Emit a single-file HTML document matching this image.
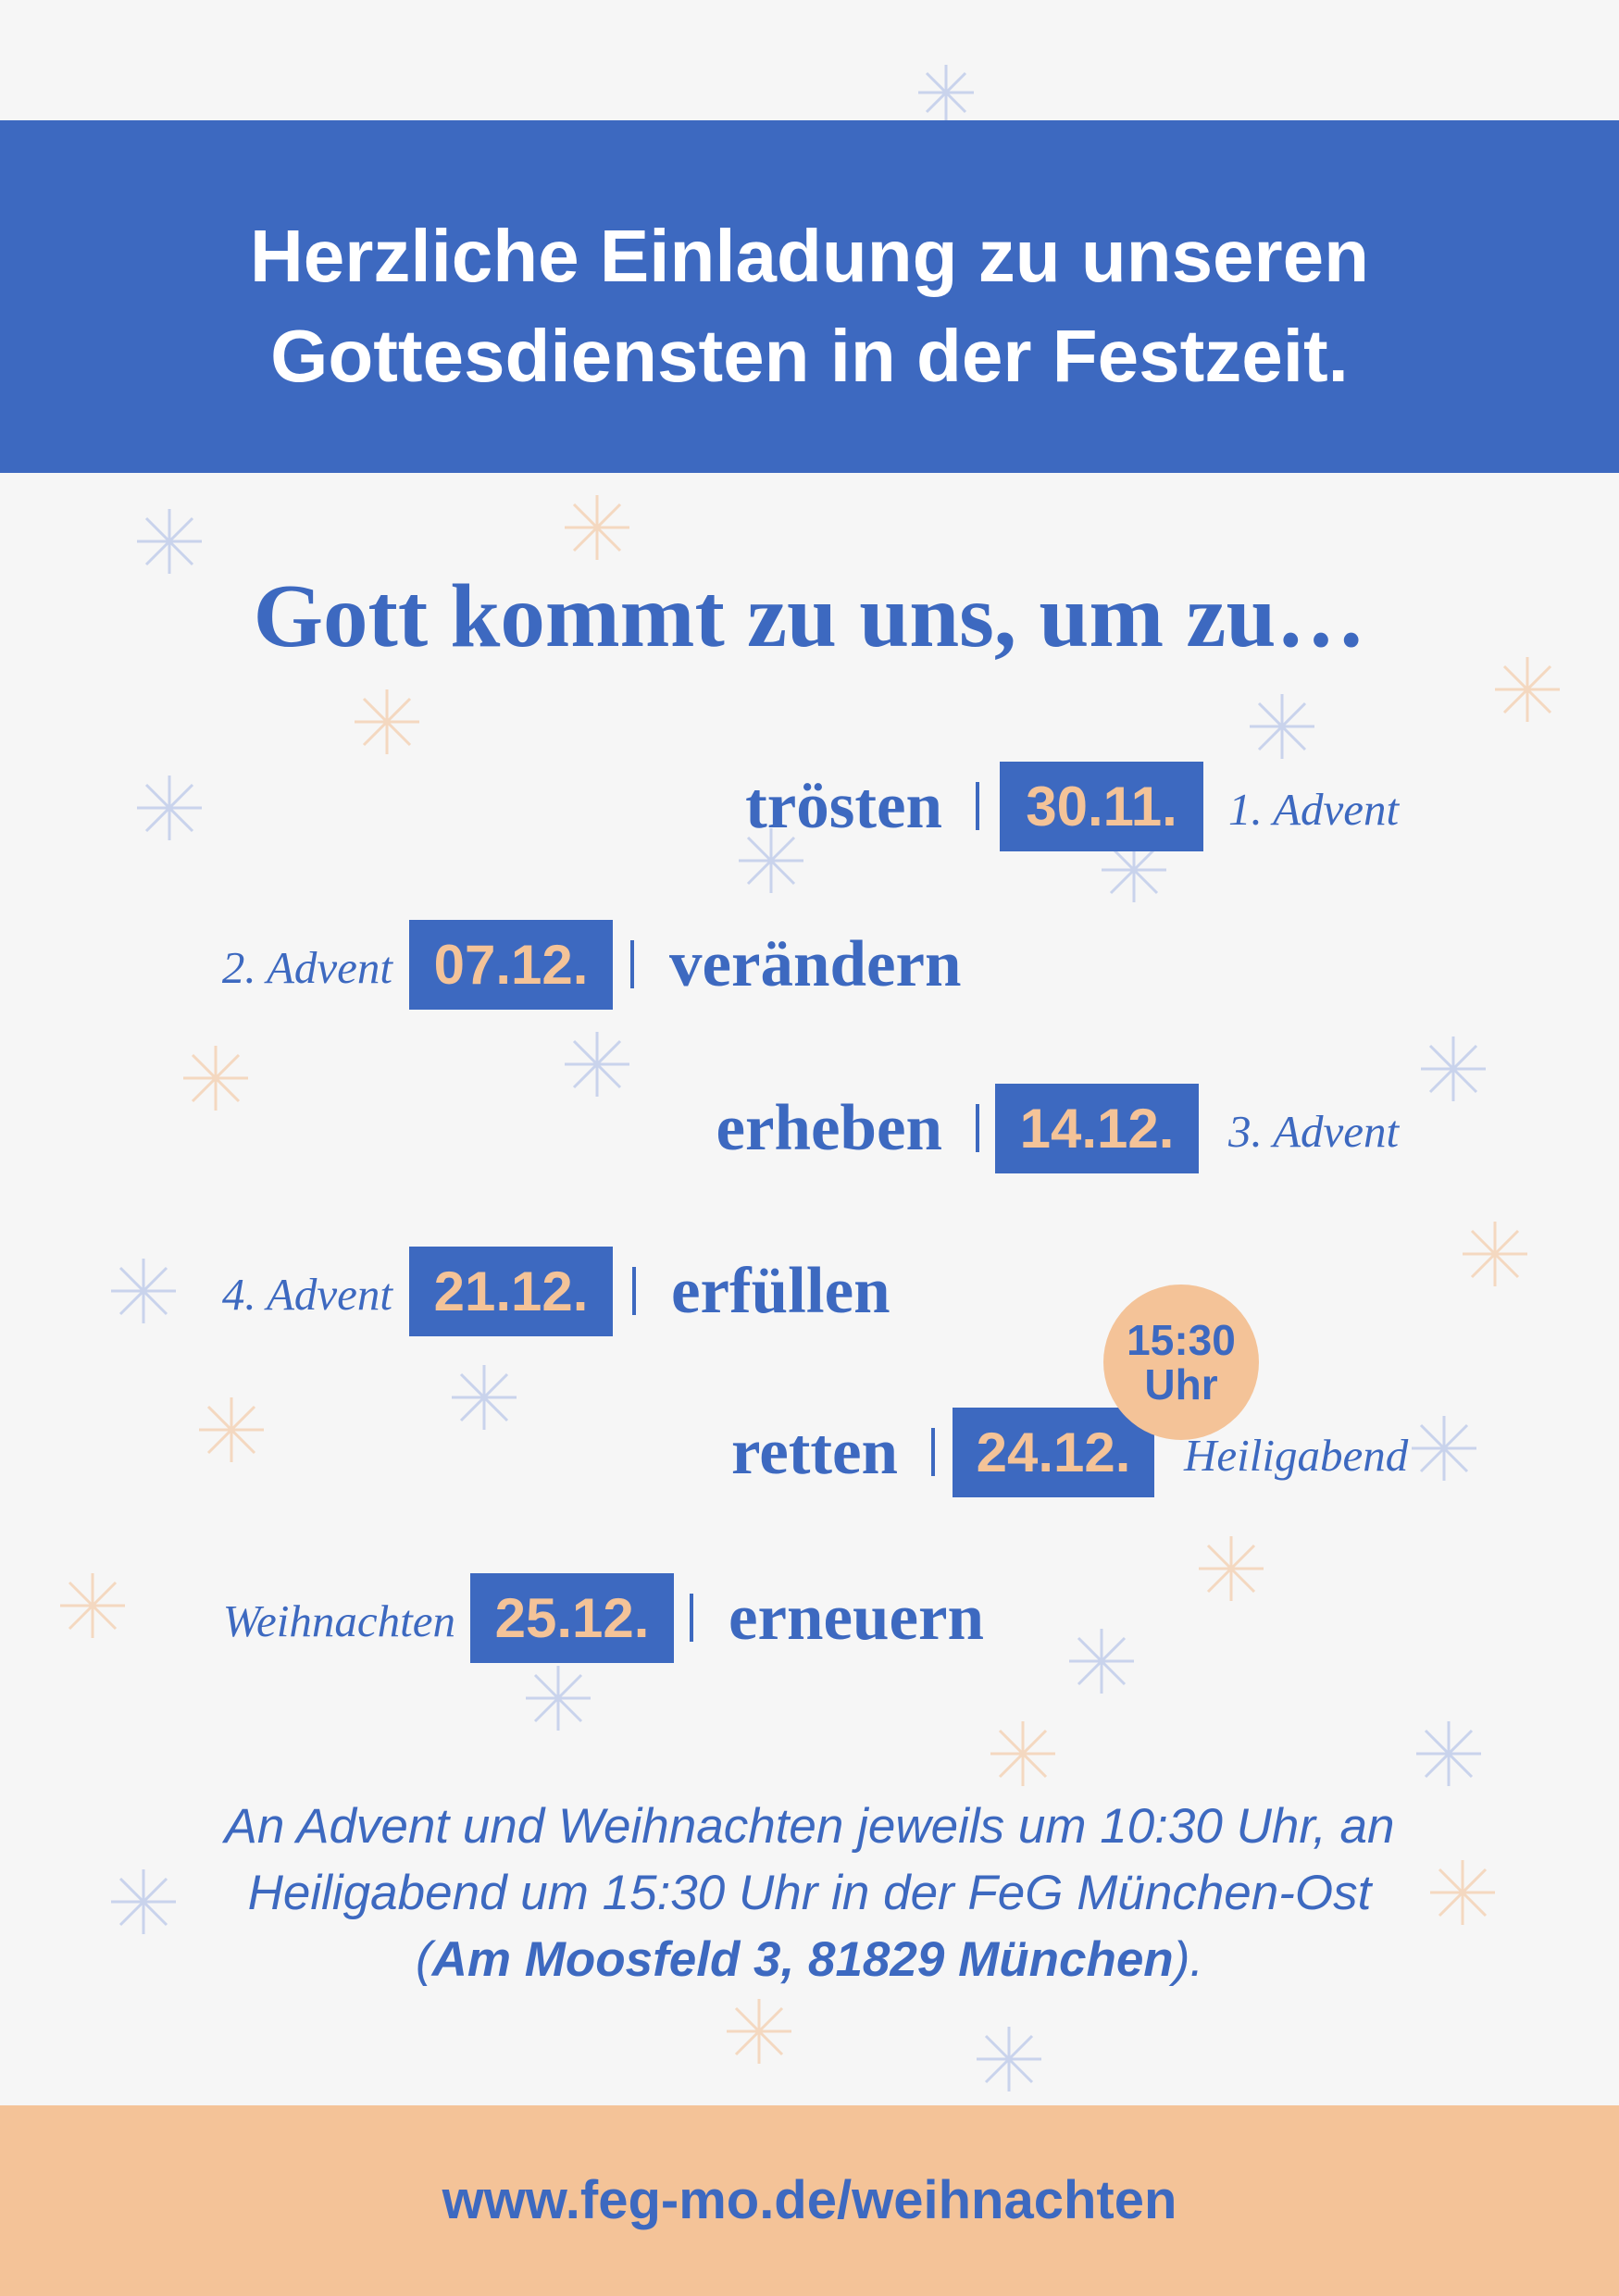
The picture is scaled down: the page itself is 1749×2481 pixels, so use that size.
<!DOCTYPE html>
<html><head><meta charset="utf-8"><style>
body{margin:0;width:1749px;height:2481px;background:#f6f6f6;position:relative;overflow:hidden;font-family:"Liberation Sans",sans-serif}
.a{position:absolute;white-space:nowrap}
.banner{left:0;top:130px;width:1749px;height:381px;background:#3d69c0}
.t{color:#fff;font-weight:bold;font-size:80px;left:0;width:1749px;text-align:center;line-height:108px}
.h{font-family:"Liberation Serif",serif;font-weight:bold;color:#3d69c0;font-size:97px;left:0;width:1749px;text-align:center;top:610px}
.w{font-family:"Liberation Serif",serif;font-weight:bold;color:#3d69c0;font-size:71px;line-height:97px}
.box{background:#3d69c0;color:#f4c398;font-weight:bold;font-size:60px;text-align:center;line-height:97px;height:97px}
.s{font-family:"Liberation Serif",serif;font-style:italic;color:#3d69c0;font-size:49px;line-height:97px}
.bar{width:4px;height:52px;background:#3d69c0}
.info{left:0;width:1749px;text-align:center;color:#3d69c0;font-style:italic;font-size:53px;line-height:72px;top:1938px}
.foot{left:0;top:2275px;width:1749px;height:206px;background:#f4c398;color:#3d69c0;font-weight:bold;font-size:58px;text-align:center;line-height:206px}
</style></head><body>
<svg class="a" style="left:0;top:0" width="1749" height="2481">
<g stroke-width="3" fill="none">
<g stroke="#c9d3ec">
<path d="M1022 70 l0 60 M992 100 l60 0 M1001 79 l42 42 M1001 121 l42 -42"/>
<path d="M183 550 l0 70 M148 585 l70 0 M158 560 l50 50 M158 610 l50 -50"/>
<path d="M183 838 l0 70 M148 873 l70 0 M158 848 l50 50 M158 898 l50 -50"/>
<path d="M1385 750 l0 70 M1350 785 l70 0 M1360 760 l50 50 M1360 810 l50 -50"/>
<path d="M1225 905 l0 70 M1190 940 l70 0 M1200 915 l50 50 M1200 965 l50 -50"/>
<path d="M833 895 l0 70 M798 930 l70 0 M808 905 l50 50 M808 955 l50 -50"/>
<path d="M645 1115 l0 70 M610 1150 l70 0 M620 1125 l50 50 M620 1175 l50 -50"/>
<path d="M1570 1120 l0 70 M1535 1155 l70 0 M1545 1130 l50 50 M1545 1180 l50 -50"/>
<path d="M155 1360 l0 70 M120 1395 l70 0 M130 1370 l50 50 M130 1420 l50 -50"/>
<path d="M523 1475 l0 70 M488 1510 l70 0 M498 1485 l50 50 M498 1535 l50 -50"/>
<path d="M1560 1530 l0 70 M1525 1565 l70 0 M1535 1540 l50 50 M1535 1590 l50 -50"/>
<path d="M1190 1760 l0 70 M1155 1795 l70 0 M1165 1770 l50 50 M1165 1820 l50 -50"/>
<path d="M1565 1860 l0 70 M1530 1895 l70 0 M1540 1870 l50 50 M1540 1920 l50 -50"/>
<path d="M155 2020 l0 70 M120 2055 l70 0 M130 2030 l50 50 M130 2080 l50 -50"/>
<path d="M1090 2190 l0 70 M1055 2225 l70 0 M1065 2200 l50 50 M1065 2250 l50 -50"/>
<path d="M603 1800 l0 70 M568 1835 l70 0 M578 1810 l50 50 M578 1860 l50 -50"/>
</g>
<g stroke="#f4d8c0">
<path d="M645 535 l0 70 M610 570 l70 0 M620 545 l50 50 M620 595 l50 -50"/>
<path d="M418 745 l0 70 M383 780 l70 0 M393 755 l50 50 M393 805 l50 -50"/>
<path d="M1650 710 l0 70 M1615 745 l70 0 M1625 720 l50 50 M1625 770 l50 -50"/>
<path d="M233 1130 l0 70 M198 1165 l70 0 M208 1140 l50 50 M208 1190 l50 -50"/>
<path d="M1615 1320 l0 70 M1580 1355 l70 0 M1590 1330 l50 50 M1590 1380 l50 -50"/>
<path d="M250 1510 l0 70 M215 1545 l70 0 M225 1520 l50 50 M225 1570 l50 -50"/>
<path d="M100 1700 l0 70 M65 1735 l70 0 M75 1710 l50 50 M75 1760 l50 -50"/>
<path d="M1330 1660 l0 70 M1295 1695 l70 0 M1305 1670 l50 50 M1305 1720 l50 -50"/>
<path d="M1105 1860 l0 70 M1070 1895 l70 0 M1080 1870 l50 50 M1080 1920 l50 -50"/>
<path d="M820 2160 l0 70 M785 2195 l70 0 M795 2170 l50 50 M795 2220 l50 -50"/>
<path d="M1580 2010 l0 70 M1545 2045 l70 0 M1555 2020 l50 50 M1555 2070 l50 -50"/>
</g></g></svg>
<div class="a banner"></div>
<div class="a t" style="top:223px">Herzliche Einladung zu unseren<br>Gottesdiensten in der Festzeit.</div>
<div class="a h">Gott kommt zu uns, um zu…</div>

<div class="a w" style="right:731px;top:823px">trösten</div>
<div class="a bar" style="left:1054px;top:845px"></div>
<div class="a box" style="left:1080px;top:823px;width:220px">30.11.</div>
<div class="a s" style="left:1327px;top:826px">1. Advent</div>

<div class="a s" style="right:1325px;top:997px">2. Advent</div>
<div class="a box" style="left:442px;top:994px;width:220px">07.12.</div>
<div class="a bar" style="left:681px;top:1016px"></div>
<div class="a w" style="left:723px;top:994px">verändern</div>

<div class="a w" style="right:731px;top:1171px">erheben</div>
<div class="a bar" style="left:1054px;top:1193px"></div>
<div class="a box" style="left:1075px;top:1171px;width:220px">14.12.</div>
<div class="a s" style="left:1327px;top:1174px">3. Advent</div>

<div class="a s" style="right:1325px;top:1350px">4. Advent</div>
<div class="a box" style="left:442px;top:1347px;width:220px">21.12.</div>
<div class="a bar" style="left:683px;top:1369px"></div>
<div class="a w" style="left:725px;top:1347px">erfüllen</div>

<div class="a w" style="right:779px;top:1521px">retten</div>
<div class="a bar" style="left:1006px;top:1543px"></div>
<div class="a box" style="left:1029px;top:1521px;width:218px">24.12.</div>
<div class="a s" style="left:1279px;top:1524px">Heiligabend</div>
<div class="a" style="left:1192px;top:1388px;width:168px;height:168px;border-radius:50%;background:#f4c398;color:#3d69c0;font-weight:bold;font-size:46px;line-height:48px;text-align:center;display:flex;align-items:center;justify-content:center">15:30<br>Uhr</div>

<div class="a s" style="right:1257px;top:1703px">Weihnachten</div>
<div class="a box" style="left:508px;top:1700px;width:220px">25.12.</div>
<div class="a bar" style="left:745px;top:1722px"></div>
<div class="a w" style="left:787px;top:1700px">erneuern</div>

<div class="a info">An Advent und Weihnachten jeweils um 10:30 Uhr, an<br>Heiligabend um 15:30 Uhr in der FeG München-Ost<br>(<b>Am Moosfeld 3, 81829 München</b>).</div>
<div class="a foot">www.feg-mo.de/weihnachten</div>
</body></html>
